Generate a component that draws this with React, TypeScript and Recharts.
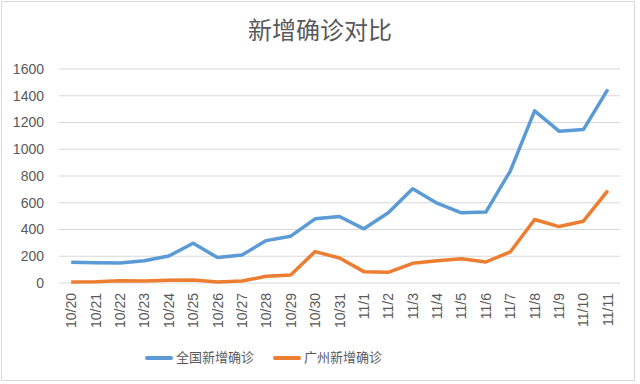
import { CartesianGrid, Legend, Line, LineChart, XAxis, YAxis } from 'recharts'

const DATES = [
  '10/20', '10/21', '10/22', '10/23', '10/24', '10/25', '10/26', '10/27', '10/28', '10/29', '10/30', '10/31',
  '11/1', '11/2', '11/3', '11/4', '11/5', '11/6', '11/7', '11/8', '11/9', '11/10', '11/11',
]
const NATIONAL = [155, 152, 150, 167, 202, 297, 190, 210, 317, 350, 480, 497, 405, 525, 705, 597, 525, 530, 837, 1287, 1135, 1147, 1447]
const GUANGZHOU = [8, 10, 17, 15, 20, 22, 8, 15, 50, 60, 235, 187, 85, 80, 147, 167, 182, 157, 232, 475, 422, 462, 690]
const Y_TICKS = [0, 200, 400, 600, 800, 1000, 1200, 1400, 1600]
const BOUNDARY_TICKS = DATES.map((_, i) => i).concat(DATES.length)

const SERIES = [
  { key: 'national', name: '全国新增确诊', color: '#5b9bd5' },
  { key: 'guangzhou', name: '广州新增确诊', color: '#ed7d31' },
]

const data = DATES.map((date, i) => ({ date, national: NATIONAL[i], guangzhou: GUANGZHOU[i] }))

const FONT = '"Liberation Sans", "Noto Sans CJK SC", sans-serif'
const TEXT = '#595959'
const GRID = '#d9d9d9'

function DateTick({ x, y, payload }: any) {
  return (
    <text
      x={x}
      y={y}
      transform={`rotate(-90, ${x}, ${y})`}
      textAnchor="end"
      dominantBaseline="central"
      fill={TEXT}
      fontSize={14}
      fontFamily={FONT}
    >
      {payload.value}
    </text>
  )
}

function LegendRow({ payload }: any) {
  return (
    <div style={{ display: 'flex', gap: 19, fontFamily: FONT, fontSize: 13, lineHeight: '18px', color: TEXT }}>
      {(payload || []).map((item: any) => (
        <div key={item.value} style={{ display: 'flex', alignItems: 'center', gap: 3 }}>
          <div style={{ width: 28, height: 4, borderRadius: 2, background: item.color }} />
          <span>{item.value}</span>
        </div>
      ))}
    </div>
  )
}

export default function App() {
  return (
    <div style={{ position: 'absolute', left: 0, top: 0, width: 640, height: 384, background: '#fff', fontFamily: FONT }}>
      <div style={{ position: 'absolute', left: 1, top: 1, width: 632, height: 378, border: `1px solid ${GRID}` }} />
      <div style={{ position: 'absolute', left: 0, top: 15, width: 640, textAlign: 'center', fontSize: 24, color: TEXT, lineHeight: '32px' }}>
        新增确诊对比
      </div>
      <LineChart width={640} height={384} data={data} margin={{ top: 69, right: 20, bottom: 0, left: 0 }} style={{ position: 'absolute', left: 0, top: 0 }}>
        <CartesianGrid vertical={false} stroke={GRID} />
        <XAxis
          xAxisId="bounds"
          type="number"
          domain={[0, DATES.length]}
          ticks={BOUNDARY_TICKS}
          allowDataOverflow
          height={0}
          tick={false}
          tickSize={5}
          stroke={GRID}
        />
        <XAxis
          dataKey="date"
          interval={0}
          padding={{ left: 12.2, right: 12.2 }}
          axisLine={false}
          tickLine={false}
          tickSize={0}
          tickMargin={10}
          height={56}
          tick={<DateTick />}
        />
        <YAxis
          domain={[0, 1600]}
          ticks={Y_TICKS}
          width={59}
          axisLine={false}
          tickLine={false}
          tickMargin={9}
          tick={{ fill: TEXT, fontSize: 14, fontFamily: FONT }}
        />
        <Legend
          verticalAlign="bottom"
          height={45}
          content={<LegendRow />}
          wrapperStyle={{ left: 145, top: 349, width: 'auto', bottom: 'auto' }}
        />
        {SERIES.map((s) => (
          <Line
            key={s.key}
            dataKey={s.key}
            name={s.name}
            stroke={s.color}
            strokeWidth={3.5}
            strokeLinejoin="round"
            dot={false}
            activeDot={false}
            type="linear"
            isAnimationActive={false}
          />
        ))}
      </LineChart>
    </div>
  )
}
